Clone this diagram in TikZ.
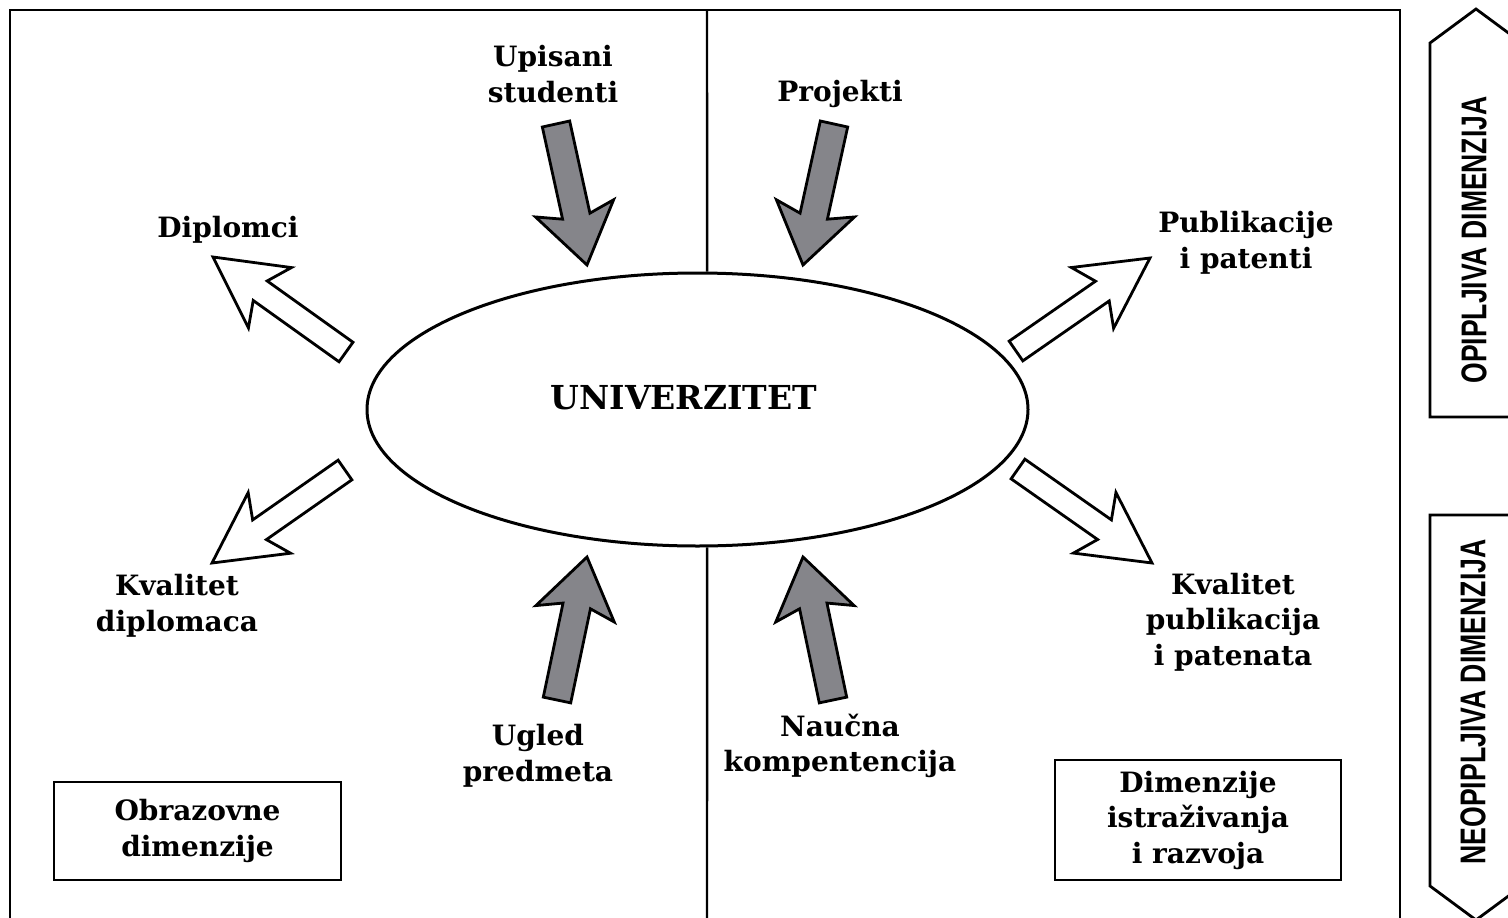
\documentclass[tikz,border=0pt]{standalone}
\usepackage{fontspec}
\setmainfont{DejaVu Serif}
\newfontfamily\condfont{Liberation Sans}
\usetikzlibrary{calc,shapes.geometric}
\definecolor{arrowgray}{RGB}{133,133,138}
\newcommand\blockarrow[7]{%
  \coordinate (ba-t) at (#1);
  \coordinate (ba-h) at (#2);
  \coordinate (ba-q) at ($(ba-h)!#6!(ba-t)$);
  \coordinate (ba-r) at ($(ba-h)!#7!(ba-t)$);
  \draw[#3] ($(ba-t)!#4!-90:(ba-h)$) -- ($(ba-q)!#4!90:(ba-t)$) -- ($(ba-r)!#5!90:(ba-t)$) -- (ba-h)
    -- ($(ba-r)!#5!-90:(ba-t)$) -- ($(ba-q)!#4!-90:(ba-t)$) -- ($(ba-t)!#4!90:(ba-h)$) -- cycle;
}
\tikzset{
  grayarrow/.style={draw, line width=2.8pt, fill=arrowgray, line join=miter},
  whitearrow/.style={draw, line width=2.8pt, fill=white, line join=miter},
  lbl/.style={align=center, inner sep=0pt, font=\bfseries\fontsize{28}{35.5}\selectfont},
  framebox/.style={draw, line width=2.6pt, inner sep=0pt, align=center, font=\bfseries\fontsize{28}{35.5}\selectfont},
  frameline/.style={line width=2.4pt},
  sidebox/.style={draw, line width=2.8pt, line join=miter},
}
\begin{document}
\begin{tikzpicture}[x=1pt,y=-1pt]
\useasboundingbox (0,0) rectangle (1508,918);
% outer frame
\coordinate (fbl) at (10,918);
\coordinate (ftl) at (10,10);
\coordinate (ftr) at (1400,10);
\coordinate (fbr) at (1400,918);
\draw[frameline] (fbl) -- (ftl) -- (ftr) -- (fbr);
% ellipse
\node[ellipse, draw, line width=3pt, minimum width=661pt, minimum height=273pt, inner sep=0pt] (uni) at (697.5,409.5) {};
\node[inner sep=0pt, font=\bfseries\fontsize{33}{35}\selectfont] (unitext) at (684,398) {UNIVERZITET};
% middle divider
\coordinate (mtop) at (707,10);
\coordinate (mbot) at (707,918);
\draw[frameline] (mtop) -- (uni.86);
\draw[frameline] (uni.-86) -- (mbot);
% gray arrows (inputs)
\blockarrow{556,124}{587,265}{grayarrow}{14pt}{40pt}{50pt}{58pt}
\blockarrow{834,124}{803,265}{grayarrow}{14pt}{40pt}{50pt}{58pt}
\blockarrow{557,700}{587,557}{grayarrow}{14pt}{40pt}{50pt}{58pt}
\blockarrow{833,700}{803,557}{grayarrow}{14pt}{40pt}{50pt}{58pt}
% white arrows (outputs)
\blockarrow{346,352}{213,257}{whitearrow}{12pt}{37pt}{58pt}{70pt}
\blockarrow{345,470}{212,563}{whitearrow}{12pt}{37pt}{58pt}{70pt}
\blockarrow{1016,351}{1150,258}{whitearrow}{12pt}{37pt}{58pt}{70pt}
\blockarrow{1018,469}{1152,563}{whitearrow}{12pt}{37pt}{58pt}{70pt}
% labels
\node[lbl] (upisani) at (553,74) {Upisani\\studenti};
\node[lbl] (projekti) at (840,94) {Projekti};
\node[lbl] (diplomci) at (228,230) {Diplomci};
\node[lbl] (publik) at (1246,243) {Publikacije\\i patenti};
\node[lbl] (kvdipl) at (177,606) {Kvalitet\\diplomaca};
\node[lbl] (kvpubl) at (1233,622) {Kvalitet\\publikacija\\i patenata};
\node[lbl] (ugled) at (538,756) {Ugled\\predmeta};
\node[lbl] (naucna) at (840,746) {Naučna\\kompentencija};
% dimension boxes
\node[framebox, minimum width=287pt, minimum height=98pt] (obraz) at (197.5,831) {Obrazovne\\dimenzije};
\node[framebox, minimum width=286pt, minimum height=120pt] (istraz) at (1198,820) {Dimenzije\\istraživanja\\i razvoja};
% side boxes
\coordinate (s1a) at (1430,417);
\coordinate (s1b) at (1430,43);
\coordinate (s1c) at (1476,9);
\coordinate (s1d) at (1522,43);
\coordinate (s1e) at (1522,417);
\draw[sidebox] (s1a) -- (s1b) -- (s1c) -- (s1d) -- (s1e) -- cycle;
\coordinate (s2a) at (1430,515);
\coordinate (s2b) at (1430,886);
\coordinate (s2c) at (1476,920);
\coordinate (s2d) at (1522,886);
\coordinate (s2e) at (1522,515);
\draw[sidebox] (s2a) -- (s2b) -- (s2c) -- (s2d) -- (s2e) -- cycle;
\node[rotate=90, inner sep=0pt] (opip) at (1474,240) {\resizebox{287pt}{25pt}{\condfont\bfseries OPIPLJIVA DIMENZIJA}};
\node[rotate=90, inner sep=0pt] (neopip) at (1473,702) {\resizebox{325pt}{25pt}{\condfont\bfseries NEOPIPLJIVA DIMENZIJA}};
\end{tikzpicture}
\end{document}
